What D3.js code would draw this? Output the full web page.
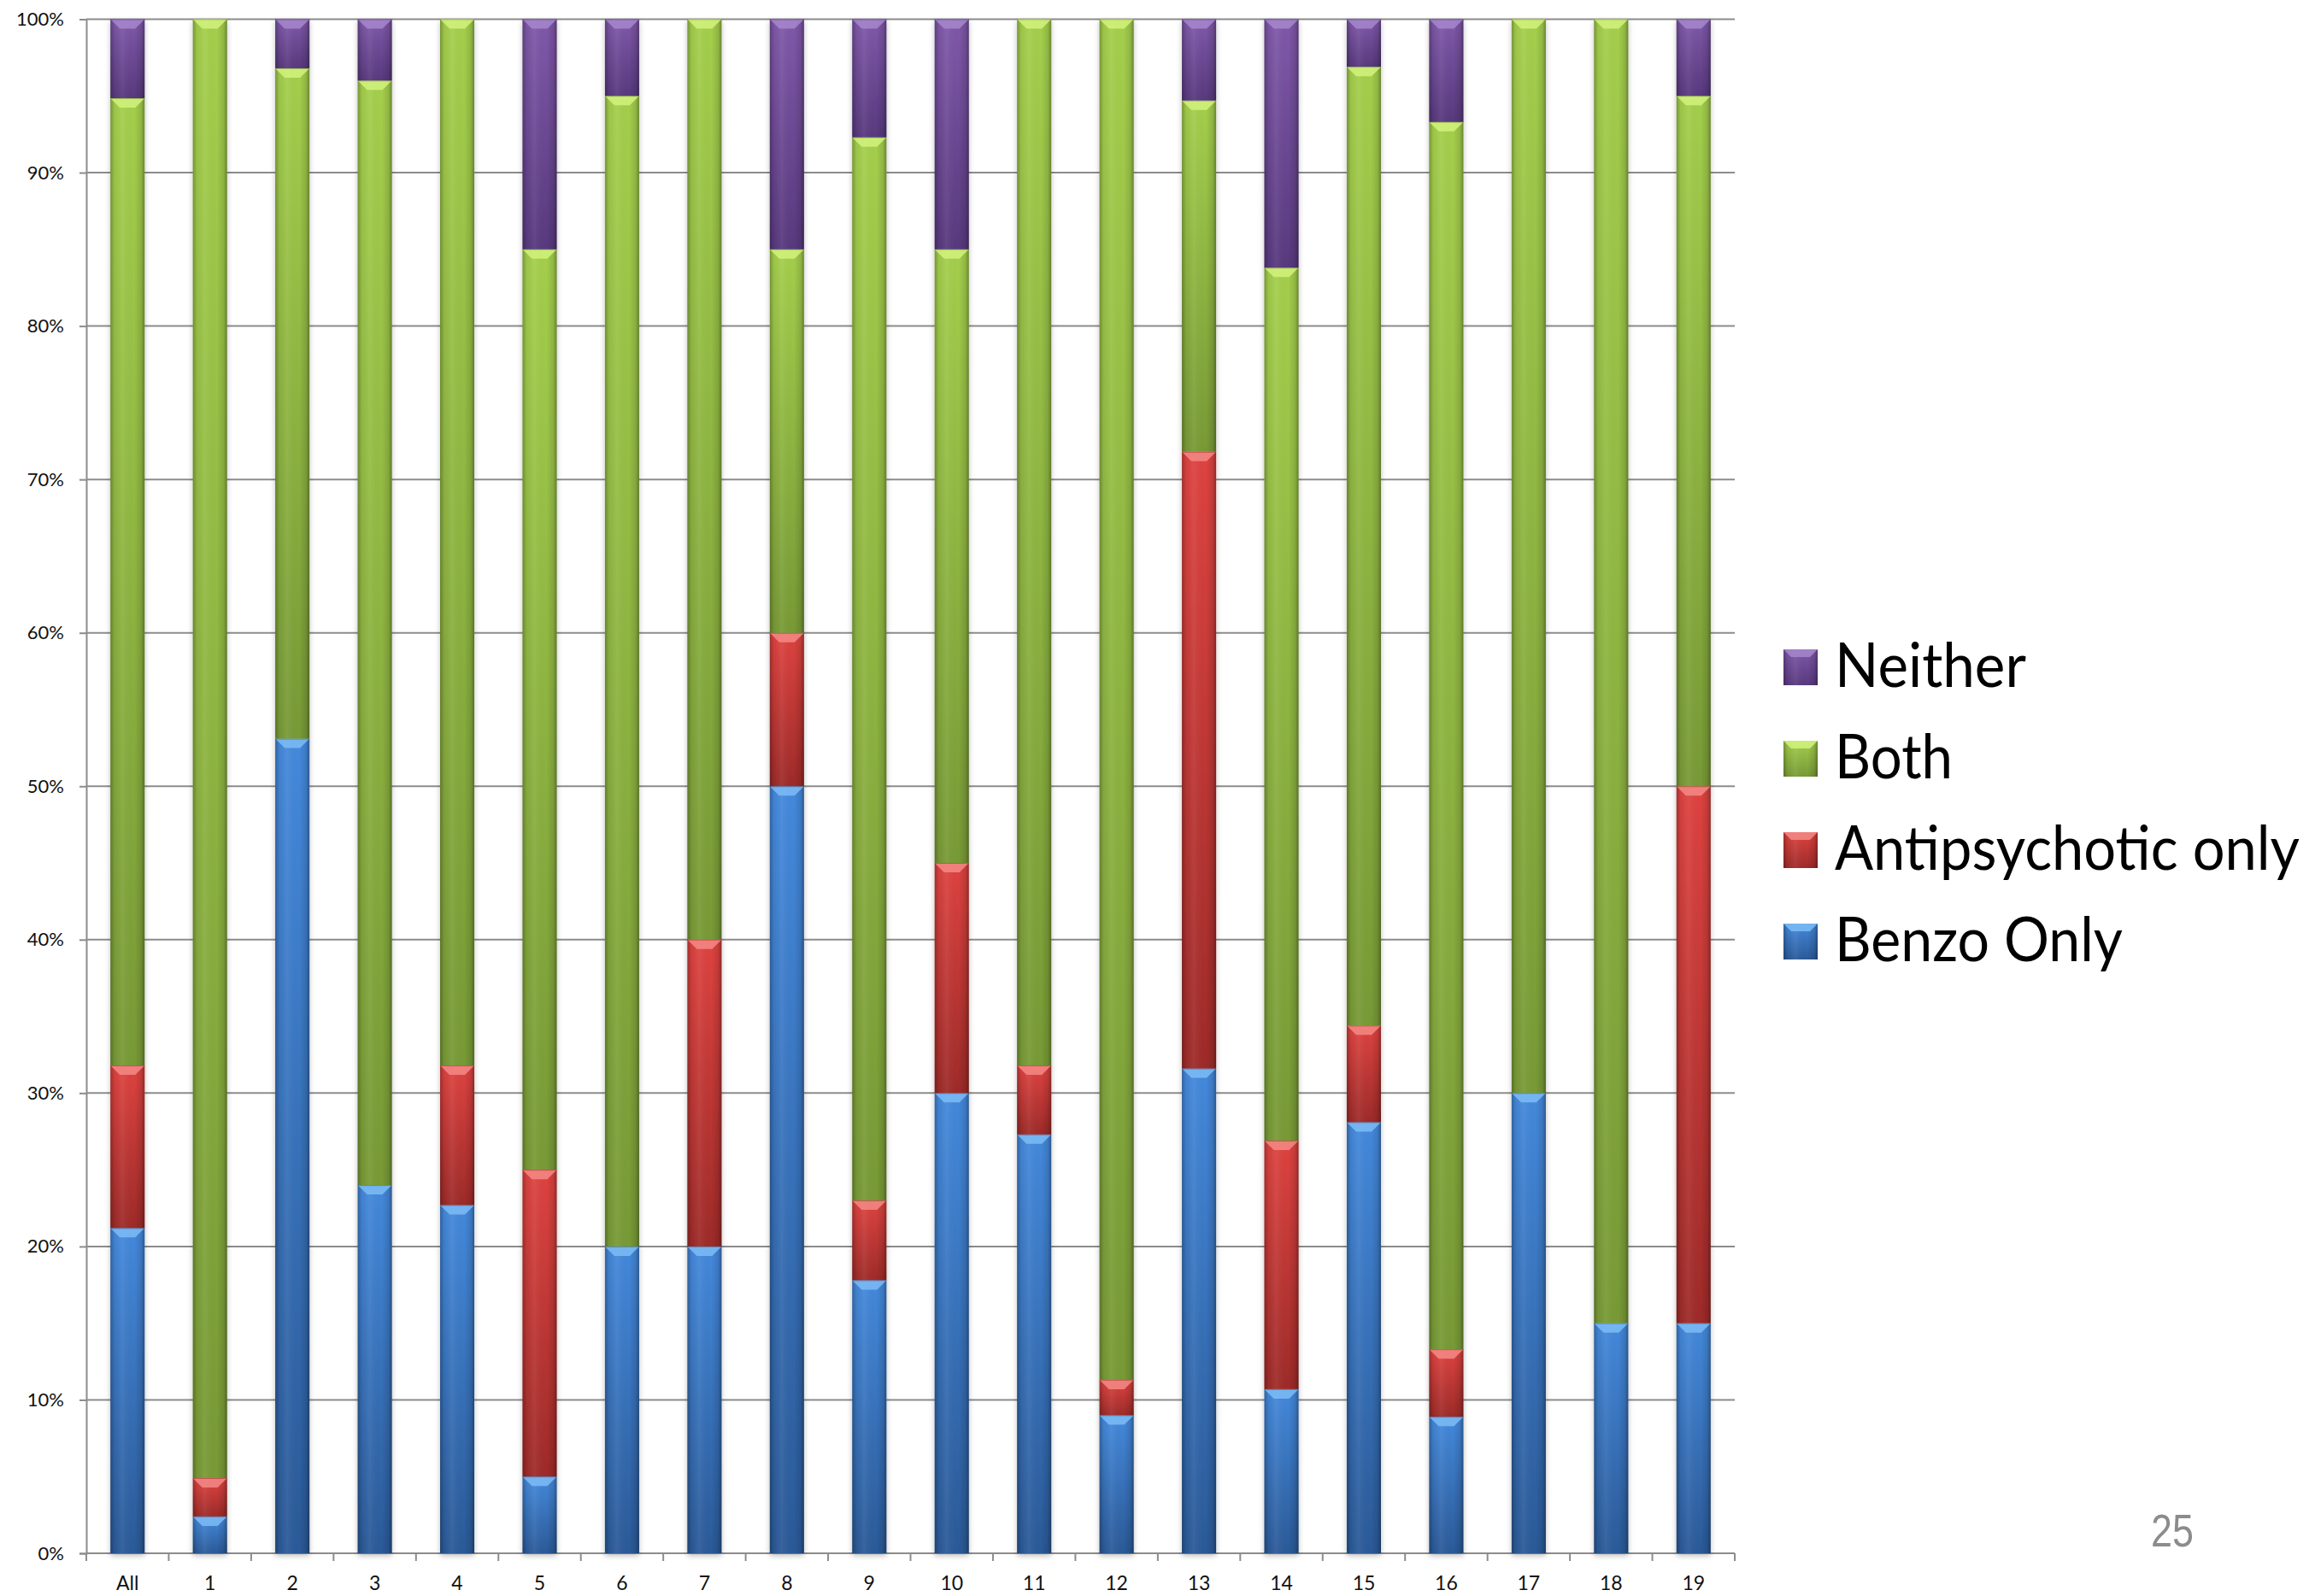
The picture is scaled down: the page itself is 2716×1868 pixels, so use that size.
<!DOCTYPE html>
<html>
<head>
<meta charset="utf-8">
<script src="https://cdn.jsdelivr.net/npm/d3@7"></script>
<style>
  html, body { margin: 0; padding: 0; background: #fff; }
  svg { display: block; }
</style>
</head>
<body>
<svg id="chart" width="2716" height="1868"></svg>
<script>
// ---- Data (percent of each group) ----
const categories = ["All","1","2","3","4","5","6","7","8","9","10","11","12","13","14","15","16","17","18","19"];
const seriesNames = ["Benzo Only", "Antipsychotic only", "Both", "Neither"];
const benzoOnly       = [21.2, 2.4, 53.1, 24.0, 22.7,  5.0, 20.0, 20.0, 50.0, 17.8, 30.0, 27.3,  9.0, 31.6, 10.7, 28.1,  8.9, 30.0, 15.0, 15.0];
const antipsychOnly   = [10.6, 2.5,  0.0,  0.0,  9.1, 20.0,  0.0, 20.0, 10.0,  5.2, 15.0,  4.5,  2.3, 40.2, 16.2,  6.3,  4.4,  0.0,  0.0, 35.0];
const both            = [63.05,95.1,43.7, 72.0, 68.2, 60.0, 75.0, 60.0, 25.0, 69.3, 40.0, 68.2, 88.7, 22.9, 56.9, 62.5, 80.0, 70.0, 85.0, 45.0];
const neither         = [5.15, 0.0,  3.2,  4.0,  0.0, 15.0,  5.0,  0.0, 15.0,  7.7, 15.0,  0.0,  0.0,  5.3, 16.2,  3.1,  6.7,  0.0,  0.0,  5.0];
const yTicks = [0,10,20,30,40,50,60,70,80,90,100];
const pageNumber = "25";

// ---- Styling ----
const colors = {
  "Benzo Only":         {top: "#4489dc", bottom: "#2b5a98", bevel: "#7dbcf6"},
  "Antipsychotic only": {top: "#de4340", bottom: "#9e2b29", bevel: "#f58a86"},
  "Both":               {top: "#a4cf4c", bottom: "#789a36", bevel: "#d2f27c"},
  "Neither":            {top: "#8059aa", bottom: "#58397e", bevel: "#a687cc"}
};

const svg = d3.select("#chart");
const x0 = 101, x1 = 2030, yTop = 22.5, yBot = 1818;

const table = categories.map((c, i) => ({
  cat: c,
  "Benzo Only": benzoOnly[i],
  "Antipsychotic only": antipsychOnly[i],
  "Both": both[i],
  "Neither": neither[i]
}));

const x = d3.scaleBand().domain(categories).range([x0, x1]).paddingInner(0.585).paddingOuter(0.2925);
const y = d3.scaleLinear().domain([0, 100]).range([yBot, yTop]);

const defs = svg.append("defs");
seriesNames.forEach((s, i) => {
  const g = defs.append("linearGradient").attr("id", "g" + i)
    .attr("x1", 0).attr("y1", 0).attr("x2", 0).attr("y2", 1);
  g.append("stop").attr("offset", "0%").attr("stop-color", colors[s].top);
  g.append("stop").attr("offset", "100%").attr("stop-color", colors[s].bottom);
});
const sh = defs.append("linearGradient").attr("id", "shade")
  .attr("x1", 0).attr("y1", 0).attr("x2", 1).attr("y2", 0);
sh.append("stop").attr("offset", "0%").attr("stop-color", "#000").attr("stop-opacity", 0.28);
sh.append("stop").attr("offset", "12%").attr("stop-color", "#000").attr("stop-opacity", 0.05);
sh.append("stop").attr("offset", "35%").attr("stop-color", "#fff").attr("stop-opacity", 0.06);
sh.append("stop").attr("offset", "70%").attr("stop-color", "#000").attr("stop-opacity", 0.0);
sh.append("stop").attr("offset", "90%").attr("stop-color", "#000").attr("stop-opacity", 0.12);
sh.append("stop").attr("offset", "100%").attr("stop-color", "#000").attr("stop-opacity", 0.35);
const f = defs.append("filter").attr("id", "shadow").attr("x", "-20%").attr("y", "-5%").attr("width", "140%").attr("height", "110%");
f.append("feDropShadow").attr("dx", 0).attr("dy", 3).attr("stdDeviation", 3).attr("flood-color", "#000").attr("flood-opacity", 0.25);

// ---- Gridlines ----
svg.append("g").selectAll("line").data(yTicks).join("line")
  .attr("x1", x0).attr("x2", x1)
  .attr("y1", d => y(d)).attr("y2", d => y(d))
  .attr("stroke", "#8c8c8c").attr("stroke-width", 2);

// ---- Y axis ----
const yAxis = svg.append("g").attr("transform", `translate(${x0},0)`)
  .call(d3.axisLeft(y).tickValues(yTicks).tickFormat(d => d + "%").tickSize(8).tickPadding(18));
yAxis.select(".domain").attr("stroke", "#8c8c8c").attr("stroke-width", 2);
yAxis.selectAll(".tick line").attr("stroke", "#8c8c8c").attr("stroke-width", 2);
yAxis.selectAll(".tick text").attr("font-family", "Lato, 'Open Sans', sans-serif").attr("font-size", 22).attr("fill", "#111");

// ---- X axis ----
const xAxisG = svg.append("g").attr("transform", `translate(0,${yBot})`);
xAxisG.append("line").attr("x1", x0).attr("x2", x1).attr("y1", 0).attr("y2", 0)
  .attr("stroke", "#8c8c8c").attr("stroke-width", 2);
const boundaries = d3.range(categories.length + 1).map(i => x0 + (x1 - x0) * i / categories.length);
xAxisG.selectAll("line.tk").data(boundaries).join("line").attr("class", "tk")
  .attr("x1", d => d).attr("x2", d => d).attr("y1", 0).attr("y2", 9)
  .attr("stroke", "#8c8c8c").attr("stroke-width", 2);
xAxisG.selectAll("text").data(categories).join("text")
  .attr("x", d => x(d) + x.bandwidth() / 2).attr("y", 43)
  .attr("text-anchor", "middle")
  .attr("font-family", "Lato, 'Open Sans', sans-serif").attr("font-size", 23).attr("fill", "#111")
  .text(d => d);

// ---- Bars ----
const stacked = d3.stack().keys(seriesNames)(table);
const bev = 11;
const barsG = svg.append("g").attr("filter", "url(#shadow)");
stacked.forEach((layer, si) => {
  const name = seriesNames[si];
  const g = barsG.append("g");
  const segs = layer.filter(d => d[1] - d[0] > 0.0001);
  g.selectAll("rect.base").data(segs).join("rect").attr("class", "base")
    .attr("x", d => x(d.data.cat)).attr("width", x.bandwidth())
    .attr("y", d => y(d[1])).attr("height", d => y(d[0]) - y(d[1]))
    .attr("fill", `url(#g${si})`);
  g.selectAll("rect.sh").data(segs).join("rect").attr("class", "sh")
    .attr("x", d => x(d.data.cat)).attr("width", x.bandwidth())
    .attr("y", d => y(d[1])).attr("height", d => y(d[0]) - y(d[1]))
    .attr("fill", "url(#shade)");
  g.selectAll("path.bev").data(segs).join("path").attr("class", "bev")
    .attr("d", d => {
      const xa = x(d.data.cat), xb = xa + x.bandwidth(), yt = y(d[1]);
      const h = Math.min(bev, (y(d[0]) - y(d[1])) / 2);
      return `M${xa},${yt}L${xb},${yt}L${xb - h},${yt + h}L${xa + h},${yt + h}Z`;
    })
    .attr("fill", colors[name].bevel).attr("opacity", 0.85);
  g.selectAll("line.sep").data(segs).join("line").attr("class", "sep")
    .attr("x1", d => x(d.data.cat)).attr("x2", d => x(d.data.cat) + x.bandwidth())
    .attr("y1", d => y(d[1]) + 0.5).attr("y2", d => y(d[1]) + 0.5)
    .attr("stroke", colors[name].bottom).attr("stroke-width", 1).attr("opacity", 0.5);
});

// ---- Legend ----
const legendItems = ["Neither", "Both", "Antipsychotic only", "Benzo Only"];
const legendWidths = {"Neither": 224, "Both": 138, "Antipsychotic only": 544, "Benzo Only": 337};
const legend = svg.append("g");
const sqX = 2087, sqW = 40, sqH = 42;
legendItems.forEach((name, i) => {
  const baseline = 804 + i * 107;
  const si = seriesNames.indexOf(name);
  const lg = legend.append("g");
  const top = baseline - 44;
  lg.append("rect").attr("x", sqX).attr("y", top).attr("width", sqW).attr("height", sqH)
    .attr("fill", `url(#g${si})`);
  lg.append("rect").attr("x", sqX).attr("y", top).attr("width", sqW).attr("height", sqH)
    .attr("fill", "url(#shade)");
  lg.append("path").attr("d", `M${sqX},${top}L${sqX + sqW},${top}L${sqX + sqW - 9},${top + 9}L${sqX + 9},${top + 9}Z`)
    .attr("fill", colors[name].bevel).attr("opacity", 0.85);
  const t = lg.append("text").attr("x", 0).attr("y", 0)
    .attr("font-family", "Lato, 'Open Sans', sans-serif").attr("font-size", 72).attr("fill", "#000")
    .text(name);
  const natural = t.node().getComputedTextLength() || legendWidths[name];
  const sx = legendWidths[name] / natural;
  t.attr("transform", `translate(2147,${baseline}) scale(${sx},1)`);
});

// ---- Page number ----
const pn = svg.append("text").attr("x", 0).attr("y", 0)
  .attr("font-family", "'Liberation Sans', Arial, sans-serif").attr("font-size", 54).attr("fill", "#8c8c8c")
  .text(pageNumber);
const pnW = pn.node().getComputedTextLength() || 50;
pn.attr("transform", `translate(2517,1810) scale(${50 / pnW},1)`);
</script>
</body>
</html>
